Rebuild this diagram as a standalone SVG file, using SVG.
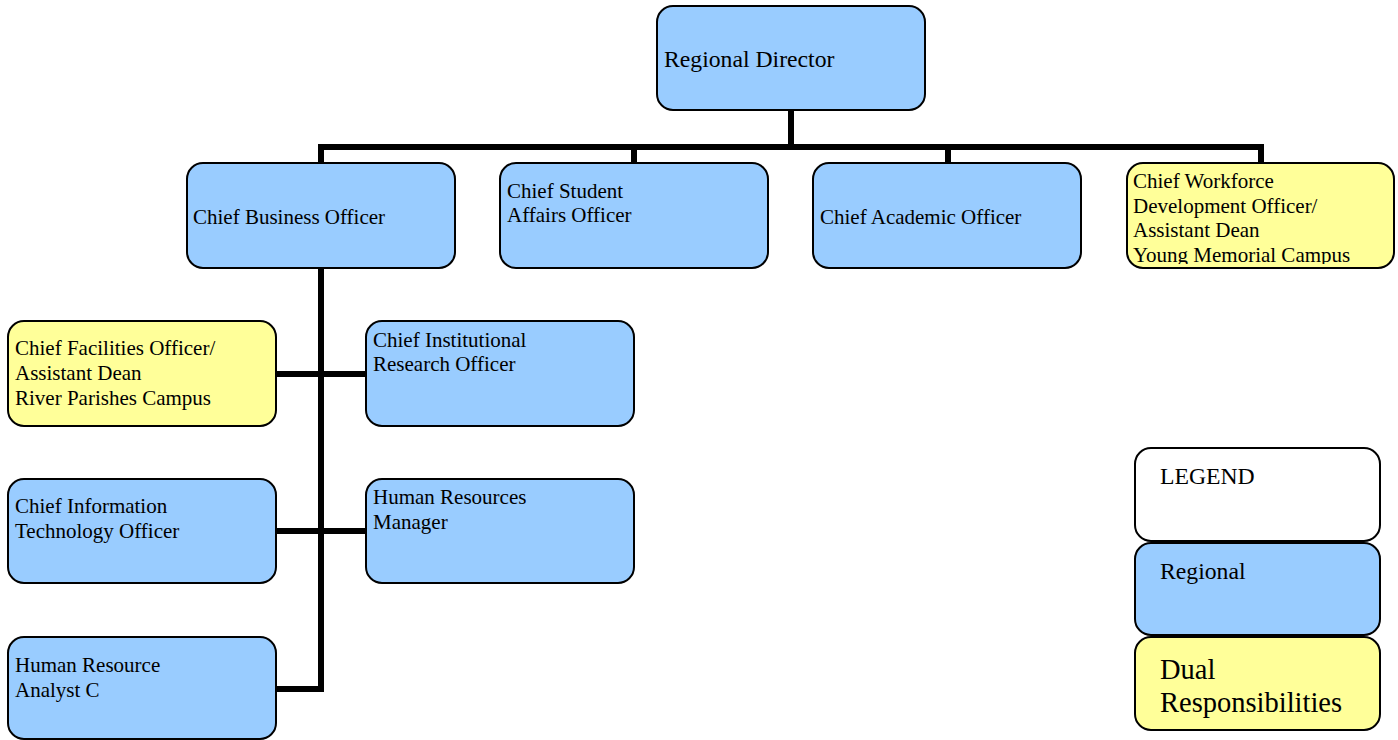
<svg xmlns="http://www.w3.org/2000/svg" width="1398" height="740" viewBox="0 0 1398 740">
<style>
.box{stroke:#000;stroke-width:2}
.blue{fill:#99CCFF}
.yellow{fill:#FFFF99}
.white{fill:#FFFFFF}
text{font-family:"Liberation Serif","Times New Roman",serif;font-size:21px;fill:#000}
.big{font-size:23.7px}
.huge{font-size:28.5px}
.conn{stroke:#000;stroke-width:6;fill:none;stroke-linecap:square}
</style>
<defs>
<clipPath id="cw"><rect x="1128" y="164" width="266" height="100" rx="15"/></clipPath>
</defs>
<g id="connectors">
<path class="conn" d="M791 110 V147 M321 147 H1261 M321 147 V163 M634 147 V163 M948 147 V163 M1261 147 V163"/>
<path class="conn" d="M321 268 V689 H277 M277 374 H366 M277 531 H366"/>
</g>
<g id="regional-director">
<rect class="box blue" x="657" y="6" width="268" height="104" rx="16"/>
<text class="big" x="664" y="67">Regional Director</text>
</g>
<g id="chief-business-officer">
<rect class="box blue" x="187" y="163" width="268" height="105" rx="16"/>
<text x="193" y="224">Chief Business Officer</text>
</g>
<g id="chief-student-affairs-officer">
<rect class="box blue" x="500" y="163" width="268" height="105" rx="16"/>
<text x="507" y="198">Chief Student</text>
<text x="507" y="222">Affairs Officer</text>
</g>
<g id="chief-academic-officer">
<rect class="box blue" x="813" y="163" width="268" height="105" rx="16"/>
<text x="820" y="224">Chief Academic Officer</text>
</g>
<g id="chief-workforce-development-officer">
<rect class="box yellow" x="1127" y="163" width="267" height="105" rx="16"/>
<g clip-path="url(#cw)">
<text x="1133" y="188">Chief Workforce</text>
<text x="1133" y="213">Development Officer/</text>
<text x="1133" y="237">Assistant Dean</text>
<text x="1133" y="262">Young Memorial Campus</text>
</g>
</g>
<g id="chief-facilities-officer">
<rect class="box yellow" x="8" y="321" width="268" height="105" rx="16"/>
<text x="15" y="355">Chief Facilities Officer/</text>
<text x="15" y="380">Assistant Dean</text>
<text x="15" y="405">River Parishes Campus</text>
</g>
<g id="chief-institutional-research-officer">
<rect class="box blue" x="366" y="321" width="268" height="105" rx="16"/>
<text x="373" y="347">Chief Institutional</text>
<text x="373" y="371">Research Officer</text>
</g>
<g id="chief-information-technology-officer">
<rect class="box blue" x="8" y="479" width="268" height="104" rx="16"/>
<text x="15" y="513">Chief Information</text>
<text x="15" y="538">Technology Officer</text>
</g>
<g id="human-resources-manager">
<rect class="box blue" x="366" y="479" width="268" height="104" rx="16"/>
<text x="373" y="504">Human Resources</text>
<text x="373" y="529">Manager</text>
</g>
<g id="human-resource-analyst-c">
<rect class="box blue" x="8" y="637" width="268" height="102" rx="16"/>
<text x="15" y="672">Human Resource</text>
<text x="15" y="697">Analyst C</text>
</g>
<g id="legend">
<rect class="box white" x="1135" y="448" width="245" height="93" rx="16"/>
<text class="big" x="1160" y="484">LEGEND</text>
</g>
<g id="legend-regional">
<rect class="box blue" x="1135" y="543" width="245" height="92" rx="16"/>
<text class="big" x="1160" y="579">Regional</text>
</g>
<g id="legend-dual">
<rect class="box yellow" x="1135" y="637" width="245" height="93" rx="16"/>
<text class="huge" x="1160" y="679">Dual</text>
<text class="huge" x="1160" y="712">Responsibilities</text>
</g>
</svg>
